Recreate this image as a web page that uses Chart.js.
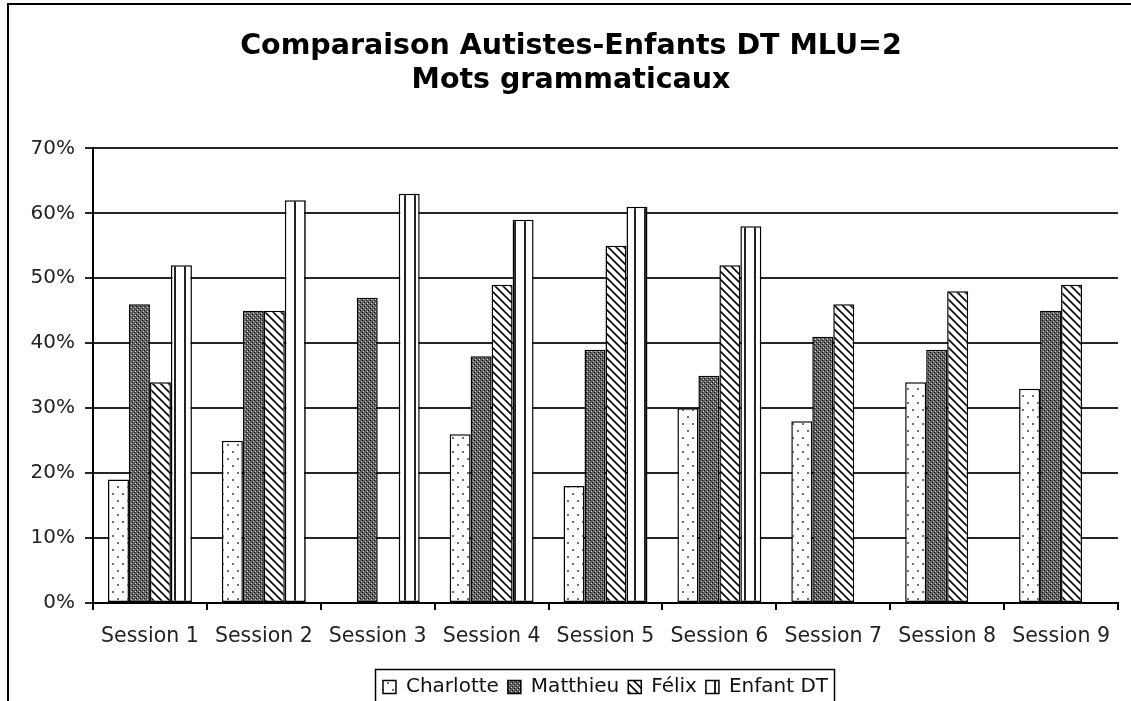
<!DOCTYPE html>
<html lang="fr">
<head>
<meta charset="utf-8">
<title>Comparaison Autistes-Enfants DT MLU=2</title>
<script src="https://cdn.jsdelivr.net/npm/chart.js@4/dist/chart.umd.min.js"></script>
<style>
  html, body { margin: 0; padding: 0; background: #fff; }
  canvas { display: block; }
</style>
</head>
<body>
<canvas id="chart" width="1131" height="701"></canvas>
<script>
// Categories and series (percent of grammatical words per session)
const sessions = ['Session 1', 'Session 2', 'Session 3', 'Session 4', 'Session 5',
                  'Session 6', 'Session 7', 'Session 8', 'Session 9'];
const charlotte = [19, 25, null, 26, 18, 30, 28, 34, 33];
const matthieu  = [46, 45, 47, 38, 39, 35, 41, 39, 45];
const felix     = [34, 45, null, 49, 55, 52, 46, 48, 49];
const enfantDT  = [52, 62, 63, 59, 61, 58, null, null, null];

const seriesNames = ['Charlotte', 'Matthieu', 'Félix', 'Enfant DT'];
const titleLines = ['Comparaison Autistes-Enfants DT MLU=2', 'Mots grammaticaux'];
const yMin = 0, yMax = 70, yStep = 10;

const FONT = '"DejaVu Sans", Verdana, sans-serif';

// Monochrome fill patterns for the bars
function makePattern(kind) {
  const c = document.createElement('canvas');
  const g = c.getContext('2d');
  if (kind === 'dots') {
    c.width = 10; c.height = 14;
    g.fillStyle = '#fff'; g.fillRect(0, 0, 10, 14);
    g.fillStyle = '#6e6e6e';
    g.fillRect(2, 3, 2, 2);
    g.fillRect(7, 10, 2, 2);
  } else if (kind === 'check') {
    c.width = 4; c.height = 4;
    g.fillStyle = '#5e5e5e'; g.fillRect(0, 0, 4, 4);
    g.fillStyle = '#d6d6d6';
    g.fillRect(1, 1, 1, 1); g.fillRect(3, 3, 1, 1);
    g.fillStyle = '#111';
    g.fillRect(0, 2, 1, 1); g.fillRect(2, 0, 1, 1);
  } else if (kind === 'diag') {
    c.width = 8; c.height = 8;
    g.fillStyle = '#fff'; g.fillRect(0, 0, 8, 8);
    for (let y = 0; y < 8; y++) {
      for (let x = 0; x < 8; x++) {
        const d = (x - y + 16) % 8;
        if (d < 3) { g.fillStyle = d === 1 ? '#000' : '#555'; g.fillRect(x, y, 1, 1); }
      }
    }
  } else if (kind === 'vert') {
    c.width = 10; c.height = 2;
    g.fillStyle = '#fff'; g.fillRect(0, 0, 10, 2);
    g.fillStyle = '#222'; g.fillRect(4, 0, 2, 2);
  }
  return g.createPattern(c, 'repeat');
}

const fills = [makePattern('dots'), makePattern('check'), makePattern('diag'), makePattern('vert')];
const values = [charlotte, matthieu, felix, enfantDT];

const datasets = seriesNames.map((name, i) => ({
  label: name,
  data: values[i],
  backgroundColor: fills[i],
  borderColor: '#000',
  borderWidth: 1.5,
  borderSkipped: false,
  categoryPercentage: 0.737,
  barPercentage: 1.0
}));

// White background, outer frame and the box around the legend
const framePlugin = {
  id: 'frame',
  beforeDraw(chart) {
    const { ctx, width, height } = chart;
    ctx.save();
    ctx.fillStyle = '#fff';
    ctx.fillRect(0, 0, width, height);
    ctx.restore();
  },
  afterDraw(chart) {
    const { ctx, width, height } = chart;
    ctx.save();
    ctx.strokeStyle = '#000';
    ctx.lineWidth = 2;
    ctx.beginPath();
    ctx.moveTo(8, height);
    ctx.lineTo(8, 4);
    ctx.lineTo(width, 4);
    ctx.stroke();
    const hb = chart.legend && chart.legend.legendHitBoxes;
    if (hb && hb.length) {
      const first = hb[0], last = hb[hb.length - 1];
      const x0 = Math.round(first.left - 8) + 0.5;
      const x1 = Math.round(last.left + last.width + 6) + 0.5;
      const y0 = Math.round(first.top - 8) + 0.5;
      ctx.lineWidth = 1.5;
      ctx.strokeRect(x0, y0, x1 - x0, height - y0 + 10);
    }
    ctx.restore();
  }
};

new Chart(document.getElementById('chart'), {
  type: 'bar',
  data: { labels: sessions, datasets },
  options: {
    responsive: false,
    animation: false,
    devicePixelRatio: 1,
    events: [],
    layout: { padding: { left: 24, right: 13, top: 0, bottom: -6 } },
    scales: {
      x: {
        grid: { offset: true, drawOnChartArea: false, tickLength: 7, color: '#000', lineWidth: 2 },
        border: { color: '#000', width: 2 },
        ticks: { font: { family: FONT, size: 20.5 }, color: '#222', padding: 14, maxRotation: 0, autoSkip: false },
        afterFit(s) { s.height = 65; }
      },
      y: {
        min: yMin, max: yMax,
        ticks: { stepSize: yStep, callback: v => v + '%', font: { family: FONT, size: 20 }, color: '#222', padding: 10 },
        grid: { color: '#262626', lineWidth: 2, tickLength: 8 },
        border: { color: '#000', width: 2 },
        afterFit(s) { s.width = 69; }
      }
    },
    plugins: {
      title: {
        display: true,
        text: titleLines,
        color: '#000',
        font: { family: FONT, size: 28.5, weight: 'bold', lineHeight: 1.2 },
        padding: { top: 29, bottom: 51 }
      },
      legend: {
        position: 'bottom',
        fullSize: false,
        labels: { font: { family: FONT, size: 20 }, color: '#111', boxWidth: 13, boxHeight: 13, padding: 9 }
      },
      tooltip: { enabled: false }
    }
  },
  plugins: [framePlugin]
});
</script>
</body>
</html>
